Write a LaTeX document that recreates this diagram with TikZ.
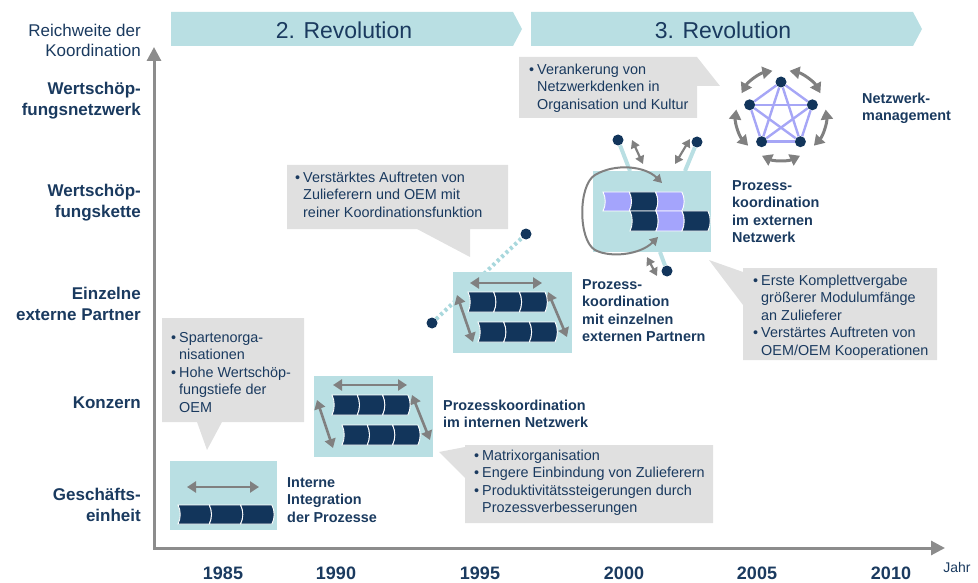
\documentclass[tikz,border=0pt]{standalone}
\usepackage{fontspec}
\setmainfont{Liberation Sans}
\usetikzlibrary{arrows.meta, calc, positioning}
\definecolor{bandteal}{HTML}{B9DFE3}
\definecolor{dotteal}{HTML}{A9D8DD}
\definecolor{navy}{HTML}{12355B}
\definecolor{txtnavy}{HTML}{1A3A5F}
\definecolor{arrgray}{HTML}{808080}
\definecolor{axisgray}{HTML}{8C8C8C}
\definecolor{bubblegray}{HTML}{E0E0E0}
\definecolor{lilac}{HTML}{A4A4FC}
\definecolor{netlilac}{HTML}{A6A6F6}
\newcommand{\bl}{\makebox[8pt][l]{\textbullet}}
\tikzset{
    band/.style={fill=bandteal},
    procbox/.style n args={2}{rectangle, fill=bandteal, minimum width=#1, minimum height=#2, inner sep=0pt},
    bubble/.style={fill=bubblegray},
    dot/.style={circle, fill=navy, minimum size=11pt, inner sep=0pt},
    link/.style={draw=bandteal, line width=4pt},
    dotlink/.style={draw=dotteal, line width=4pt, dash pattern=on 3pt off 3pt},
    axis/.style={draw=axisgray, line width=3pt, {Triangle[length=14pt,width=14pt]}-{Triangle[length=14pt,width=14pt]}},
    darr/.style={draw=arrgray, line width=2.6pt, {Triangle[length=9pt,width=11pt]}-{Triangle[length=9pt,width=11pt]}},
    sarr/.style={draw=arrgray, line width=2.2pt, {Triangle[length=8pt,width=9pt]}-{Triangle[length=8pt,width=9pt]}},
    netarr/.style={draw=arrgray, line width=3pt, {Triangle[length=10pt,width=12pt]}-{Triangle[length=10pt,width=12pt]}},
    looparr/.style={draw=arrgray, line width=2pt, {Triangle[length=8pt,width=9pt]}-{Triangle[length=8pt,width=9pt]}},
    netline/.style={draw=netlilac, line width=2.4pt},
    pics/prstep/.style n args={3}{code={
        \fill[#1, draw=white, line width=0.9pt] (0,0) -- (#2,0) .. controls (#2+3,0.3*#3) and (#2+3,0.7*#3) .. (#2,#3)
            -- (0,#3) .. controls (3,0.7*#3) and (3,0.3*#3) .. (0,0) -- cycle;
    }},
    bandlbl/.style={text=txtnavy, inner sep=0pt, font=\fontsize{23}{27}\selectfont},
    levellbl/.style={text=txtnavy, anchor=east, align=right, inner sep=0pt, font=\bfseries\fontsize{17}{21}\selectfont},
    sidelbl/.style={text=txtnavy, anchor=north west, align=left, inner sep=0pt, font=\bfseries\fontsize{14.4}{17.5}\selectfont},
    bubtxt/.style={text=txtnavy, anchor=north west, inner sep=0pt, font=\fontsize{14.4}{17.5}\selectfont},
    yearlbl/.style={text=txtnavy, inner sep=0pt, font=\bfseries\fontsize{18}{20}\selectfont},
}

\begin{document}
\begin{tikzpicture}[x=1pt, y=-1pt]
    \useasboundingbox (0,0) rectangle (978,583);
    % revolutions
    \path[band] (171,12) -- (513,12) -- (522,29) -- (513,46) -- (171,46) -- cycle;
    \path[band] (531,12) -- (913,12) -- (922,29) -- (913,46) -- (531,46) -- cycle;
    \node[bandlbl] (rev2) at (344,30) {2. Revolution};
    \node[bandlbl] (rev3) at (723,30) {3. Revolution};
    % axes
    \coordinate (ytip) at (154,47);
    \coordinate (orig) at (154,548);
    \coordinate (xtip) at (945,548);
    \draw[axis] (ytip) -- (orig) -- (xtip);
    \node[levellbl, font=\fontsize{17}{20}\selectfont] (lvl0) at (141,40) {Reichweite der\\Koordination};
    \node[levellbl] (lvl5) at (141,101) {Wertschöp-\\fungsnetzwerk};
    \node[levellbl] (lvl4) at (141,203) {Wertschöp-\\fungskette};
    \node[levellbl] (lvl3) at (141,304) {Einzelne\\externe Partner};
    \node[levellbl] (lvl2) at (141,403) {Konzern};
    \node[levellbl] (lvl1) at (141,505) {Geschäfts-\\einheit};
    \foreach \yr/\xp in {1985/223,1990/336,1995/480,2000/624,2005/757,2010/891}
        \node[yearlbl] (yr\yr) at (\xp,573) {\yr};
    \node[text=txtnavy, inner sep=0pt, font=\fontsize{14}{16}\selectfont] (jahr) at (957,567) {Jahr};

    % callouts
    \path[bubble] (162,318) -- (304,318) -- (304,422) -- (222,422) -- (207,450) -- (197,422) -- (162,422) -- cycle;
    \path[bubble] (465,445) -- (713,445) -- (713,523) -- (465,523) -- (465,478) -- (439,452) -- (465,447) -- cycle;
    \path[bubble] (287,165) -- (508,165) -- (508,229) -- (470,229) -- (470,257) -- (417,229) -- (287,229) -- cycle;
    \path[bubble] (519,57) -- (697,57) -- (720,86) -- (697,86) -- (697,118) -- (519,118) -- cycle;
    \path[bubble] (743,268) -- (937,268) -- (937,360) -- (743,360) -- (743,305) -- (709,260) -- (743,272) -- cycle;
    \node[bubtxt] (txt1) at (171,330) {\begin{tabular}{@{}l@{}l@{}}\bl & Spartenorga-\\ & nisationen\\ \bl & Hohe Wertschöp-\\ & fungstiefe der\\ & OEM\end{tabular}};
    \node[bubtxt] (txt2) at (474,448) {\begin{tabular}{@{}l@{}l@{}}\bl & Matrixorganisation\\ \bl & Engere Einbindung von Zulieferern\\ \bl & Produktivitätssteigerungen durch\\ & Prozessverbesserungen\end{tabular}};
    \node[bubtxt] (txt3) at (295,170) {\begin{tabular}{@{}l@{}l@{}}\bl & Verstärktes Auftreten von\\ & Zulieferern und OEM mit\\ & reiner Koordinationsfunktion\end{tabular}};
    \node[bubtxt] (txt4) at (529,62) {\begin{tabular}{@{}l@{}l@{}}\bl & Verankerung von\\ & Netzwerkdenken in\\ & Organisation und Kultur\end{tabular}};
    \node[bubtxt] (txt5) at (753,273) {\begin{tabular}{@{}l@{}l@{}}\bl & Erste Komplettvergabe\\ & größerer Modulumfänge\\ & an Zulieferer\\ \bl & Verstärtes Auftreten von\\ & OEM/OEM Kooperationen\end{tabular}};

    % 1985
    \node[procbox={107}{69}] (b1) at (223.5,495.5) {};
    \coordinate (h1a) at (187,487);
    \coordinate (h1b) at (259,487);
    \draw[darr] (h1a) -- (h1b);
    \foreach \i in {0,1,2}
        \pic at (178+31.3*\i,505) {prstep={navy}{31.3}{19}};
    \node[sidelbl] (lb1) at (287,475) {\strut Interne\\Integration\\der Prozesse};

    % 1990
    \node[procbox={119}{81}] (b2) at (373.5,416.5) {};
    \coordinate (h2a) at (333,385);
    \coordinate (h2b) at (407,385);
    \coordinate (l2a) at (317,400);
    \coordinate (l2b) at (333,448);
    \coordinate (r2a) at (412,395);
    \coordinate (r2b) at (430,440);
    \draw[darr] (h2a) -- (h2b);
    \draw[darr] (l2a) -- (l2b);
    \draw[darr] (r2a) -- (r2b);
    \foreach \i in {0,1,2} {
        \pic at (332+25.3*\i,395) {prstep={navy}{25.3}{20}};
        \pic at (342+25.3*\i,425) {prstep={navy}{25.3}{20}};
    }
    \node[sidelbl] (lb2) at (443,398) {\strut Prozesskoordination\\im internen Netzwerk};

    % 1995
    \node[dot] (qA) at (432,323) {};
    \node[dot] (qB) at (526,234) {};
    \draw[dotlink] (qA) -- (qB);
    \node[procbox={119}{81}] (b3) at (512.5,312.5) {};
    \coordinate (h3a) at (470,283);
    \coordinate (h3b) at (542,283);
    \coordinate (l3a) at (457,295);
    \coordinate (l3b) at (473,342);
    \coordinate (r3a) at (548,292);
    \coordinate (r3b) at (567,337);
    \draw[darr] (h3a) -- (h3b);
    \draw[darr] (l3a) -- (l3b);
    \draw[darr] (r3a) -- (r3b);
    \foreach \i in {0,1,2} {
        \pic at (468+25.7*\i,292) {prstep={navy}{25.7}{20}};
        \pic at (478+25.7*\i,322) {prstep={navy}{25.7}{20}};
    }
    \node[sidelbl] (lb3) at (582,277) {\strut Prozess-\\koordination\\mit einzelnen\\externen Partnern};

    % 2000
    \node[dot] (pA) at (618,140) {};
    \node[dot] (pB) at (697,142) {};
    \node[dot] (pC) at (667,271) {};
    \coordinate (cA) at (630,171);
    \coordinate (cB) at (685,171);
    \coordinate (cC) at (660,252);
    \draw[link] (pA) -- (cA);
    \draw[link] (pB) -- (cB);
    \draw[link] (pC) -- (cC);
    \node[procbox={118}{81}] (b4) at (652,211.5) {};
    \coordinate (sA1) at (632,140);
    \coordinate (sA2) at (643,164);
    \coordinate (sB1) at (690,139);
    \coordinate (sB2) at (675,164);
    \coordinate (sC1) at (647,257);
    \coordinate (sC2) at (657,276);
    \draw[sarr] (sA1) -- (sA2);
    \draw[sarr] (sB1) -- (sB2);
    \draw[sarr] (sC1) -- (sC2);
    \foreach \i/\c in {0/lilac,1/navy,2/lilac} {
        \pic at (603+26.3*\i,192) {prstep={\c}{26.3}{19}};
    }
    \foreach \i/\c in {0/navy,1/lilac,2/navy} {
        \pic at (630+26*\i,211) {prstep={\c}{26}{20}};
    }
    \coordinate (lpA) at (658,237);
    \coordinate (lpB) at (662,183);
    \draw[looparr] (lpA) .. controls (640,255) and (610,258) .. (595,250)
        .. controls (578,240) and (578,185) .. (595,175)
        .. controls (615,163) and (645,166) .. (lpB);
    \node[sidelbl] (lb4) at (732,178) {\strut Prozess-\\koordination\\im externen\\Netzwerk};

    % 2005
    \def\cx{781}
    \def\cy{115}
    \foreach \i in {1,...,5}
        \node[dot] (n\i) at ($(\cx,\cy)+({-90+72*(\i-1)}:33)$) {};
    \foreach \i/\j in {1/2,2/3,3/4,4/5,5/1,1/3,1/4,2/4,2/5,3/5}
        \draw[netline] (n\i) -- (n\j);
    \foreach \a in {-126,-54,18,90,162}
        \draw[netarr] ($(\cx,\cy)+({\a-25}:45)$) arc[start angle=\a-25, end angle=\a+25, radius=45];
    \node[sidelbl] (lb5) at (862,91) {\strut Netzwerk-\\management};
\end{tikzpicture}
\end{document}
